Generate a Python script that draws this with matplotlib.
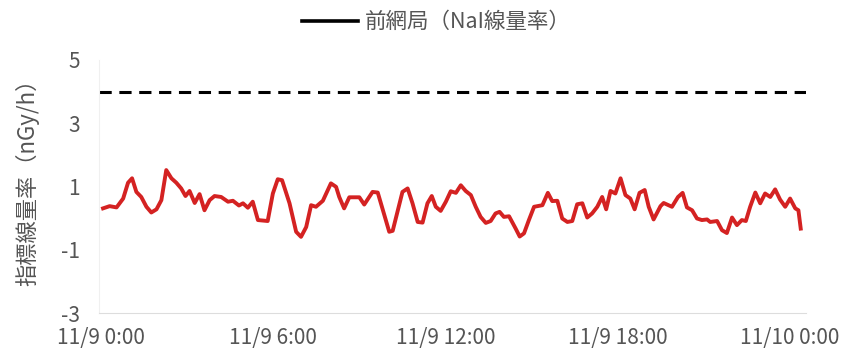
import matplotlib
matplotlib.use("Agg")
import matplotlib.pyplot as plt
from matplotlib.lines import Line2D

plt.rcParams['font.family'] = ['Noto Sans CJK JP', 'DejaVu Sans']
plt.rcParams['axes.unicode_minus'] = False

# hours since 11/9 0:00
hours = [0.09, 0.32, 0.56, 0.79, 0.96, 1.10, 1.25, 1.42, 1.60, 1.77, 1.95, 2.12,
         2.29, 2.47, 2.64, 2.81, 2.96, 3.10, 3.28, 3.45, 3.62, 3.80, 3.97, 4.20,
         4.44, 4.61, 4.82, 4.96, 5.13, 5.30, 5.48, 5.82, 6.00, 6.17, 6.32, 6.58,
         6.81, 6.98, 7.16, 7.33, 7.50, 7.74, 8.02, 8.20, 8.31, 8.48, 8.66, 9.01,
         9.18, 9.47, 9.65, 10.05, 10.17, 10.51, 10.69, 10.86, 11.04, 11.21, 11.38,
         11.53, 11.67, 11.84, 12.02, 12.19, 12.37, 12.54, 12.71, 12.89, 13.06,
         13.23, 13.41, 13.58, 13.75, 13.89, 14.04, 14.22, 14.45, 14.59, 14.74,
         14.91, 15.09, 15.38, 15.57, 15.72, 15.90, 16.07, 16.25, 16.42, 16.59,
         16.77, 16.94, 17.11, 17.29, 17.46, 17.60, 17.75, 17.92, 18.10, 18.27,
         18.44, 18.59, 18.76, 18.94, 19.08, 19.25, 19.49, 19.60, 19.89, 20.10,
         20.26, 20.41, 20.59, 20.76, 20.93, 21.11, 21.22, 21.46, 21.63, 21.80,
         21.98, 22.15, 22.32, 22.46, 22.61, 22.79, 22.96, 23.13, 23.31, 23.48,
         23.65, 23.83, 24.00, 24.18, 24.29, 24.37]
dose = [0.31, 0.38, 0.34, 0.62, 1.12, 1.26, 0.83, 0.67, 0.36, 0.18, 0.28, 0.57,
        1.52, 1.26, 1.12, 0.94, 0.70, 0.86, 0.48, 0.76, 0.25, 0.57, 0.70, 0.67,
        0.52, 0.55, 0.40, 0.47, 0.33, 0.52, -0.06, -0.09, 0.78, 1.23, 1.20, 0.47,
        -0.43, -0.59, -0.28, 0.41, 0.36, 0.55, 1.10, 0.99, 0.67, 0.31, 0.66, 0.66,
        0.43, 0.83, 0.81, -0.43, -0.40, 0.83, 0.94, 0.47, -0.12, -0.14, 0.47,
        0.70, 0.36, 0.23, 0.52, 0.85, 0.80, 1.04, 0.86, 0.73, 0.36,
        0.04, -0.15, -0.09, 0.15, 0.20, 0.04, 0.06, -0.33, -0.58, -0.48,
        -0.06, 0.36, 0.41, 0.80, 0.54, 0.55, -0.01, -0.12, -0.09, 0.44,
        0.47, 0.02, 0.15, 0.36, 0.67, 0.28, 0.86, 0.78, 1.26, 0.73,
        0.62, 0.28, 0.80, 0.89, 0.36, -0.04, 0.38, 0.48, 0.36, 0.67,
        0.80, 0.34, 0.25, -0.01, -0.06, -0.04, -0.12, -0.09, -0.38, -0.47,
        0.02, -0.22, -0.06, -0.09, 0.36, 0.81, 0.47, 0.78, 0.67, 0.91,
        0.59, 0.36, 0.62, 0.31, 0.25, -0.33]

ref_level = 4.0  # 前網局 NaI reference level
ref_span = [-0.05, 24.55]

tick_hours = [0, 6, 12, 18, 24]
tick_labels = ['11/9 0:00', '11/9 6:00', '11/9 12:00', '11/9 18:00', '11/10 0:00']
y_ticks = [-3, -1, 1, 3, 5]

text_color = '#555555'

fig = plt.figure(figsize=(8.61, 3.57), dpi=100)
ax = fig.add_axes([0.115, 0.123, 0.821, 0.709])

ax.plot(ref_span, [ref_level, ref_level], color='black', lw=2.2,
        dashes=(4, 2.5))
ax.plot(hours, dose, color='#d42222', lw=2.8, solid_joinstyle='round')

ax.set_xlim(ref_span)
ax.set_ylim(-3, 5)
ax.set_xticks(tick_hours)
ax.set_xticklabels(tick_labels)
ax.set_yticks(y_ticks)
ax.tick_params(length=0, labelsize=15, colors=text_color)
ax.tick_params(axis='x', pad=10)
ax.tick_params(axis='y', pad=14)

for side in ['top', 'right']:
    ax.spines[side].set_visible(False)
ax.spines['left'].set_color('#f0f0f0')
ax.spines['bottom'].set_color('#dddddd')
ax.spines['bottom'].set_linewidth(0.8)

ax.set_ylabel('指標線量率（nGy/h）', fontsize=16, color=text_color, labelpad=8)
ax.yaxis.set_label_coords(-0.085, 0.54)

handle = Line2D([], [], color='black', lw=2.6)
fig.legend([handle], ['前網局（NaI線量率）'], loc='center',
           bbox_to_anchor=(0.507, 0.938), frameon=False, fontsize=15.5,
           labelcolor=text_color, handlelength=2.6, handletextpad=0.3)

fig.savefig('out.png', dpi=100)
